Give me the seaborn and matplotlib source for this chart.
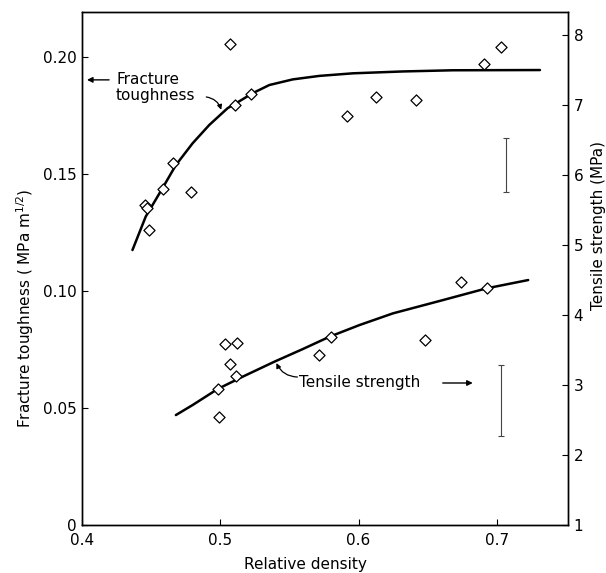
import matplotlib
matplotlib.use("Agg")
import matplotlib.pyplot as plt
import seaborn as sns
import numpy as np
import pandas as pd

# ---- data ----
ft_x = [0.507, 0.511, 0.5225, 0.466, 0.4585, 0.4787, 0.4457, 0.4471, 0.4488,
        0.5918, 0.6123, 0.6415, 0.6906, 0.7029]
ft_y = [0.2054, 0.1795, 0.1840, 0.1546, 0.1435, 0.1422, 0.1368, 0.1353, 0.1262,
        0.1747, 0.1830, 0.1816, 0.1971, 0.2044]

ft_curve_x = [0.4365, 0.4461, 0.4582, 0.4679, 0.480, 0.492, 0.5053, 0.5114,
              0.5234, 0.5355, 0.5524, 0.5717, 0.5959, 0.6321, 0.6683, 0.7312]
ft_curve_y = [0.1175, 0.1318, 0.1439, 0.1538, 0.1631, 0.1709, 0.1781, 0.1802,
              0.1845, 0.1880, 0.1904, 0.1919, 0.1930, 0.1938, 0.1943, 0.1944]

ts_x = [0.5036, 0.5118, 0.507, 0.5111, 0.4986, 0.499, 0.5717, 0.5802,
        0.6483, 0.6741, 0.693]
ts_y = [3.581, 3.604, 3.30, 3.133, 2.939, 2.539, 3.429, 3.69,
        3.643, 4.476, 4.381]

ts_curve_x = [0.4679, 0.480, 0.4981, 0.5162, 0.5391, 0.5597, 0.5790, 0.6007,
              0.6249, 0.6611, 0.6925, 0.7227]
ts_curve_y = [2.571, 2.714, 2.943, 3.119, 3.333, 3.514, 3.690, 3.857,
              4.024, 4.214, 4.381, 4.500]

ft_err_x = [0.707]
ft_err_lo = [0.1422]
ft_err_hi = [0.1655]
ts_err_x = [0.7031]
ts_err_lo = [2.276]
ts_err_hi = [3.286]

x_ticks = [0.4, 0.5, 0.6, 0.7]
x_ticklabels = ["0.4", "0.5", "0.6", "0.7"]
yl_ticks = [0, 0.05, 0.10, 0.15, 0.20]
yl_ticklabels = ["0", "0.05", "0.10", "0.15", "0.20"]
yr_ticks = [1, 2, 3, 4, 5, 6, 7, 8]
yr_ticklabels = ["1", "2", "3", "4", "5", "6", "7", "8"]

# ---- style ----
sns.set_theme(style="ticks")
plt.rcParams["font.family"] = ["DejaVu Sans"]
plt.rcParams["axes.linewidth"] = 1.0
plt.rcParams["axes.edgecolor"] = "black"
plt.rcParams["text.color"] = "black"

fig = plt.figure(figsize=(6.06, 5.73), dpi=100)
ax = fig.add_axes([82 / 606, 1 - 525 / 573, (568 - 82) / 606, (525 - 12) / 573])
ax2 = ax.twinx()

# fracture toughness
sns.lineplot(x=ft_curve_x, y=ft_curve_y, ax=ax, color="black", lw=1.8,
             sort=False, estimator=None, zorder=2)
sns.scatterplot(x=ft_x, y=ft_y, ax=ax, marker="D", s=32, facecolor="white",
                edgecolor="black", linewidth=0.9, zorder=3)
ax.errorbar(ft_err_x, [(l + h) / 2 for l, h in zip(ft_err_lo, ft_err_hi)],
            yerr=[[(h - l) / 2 for l, h in zip(ft_err_lo, ft_err_hi)]] * 2,
            fmt="none", ecolor="#444444", elinewidth=0.8, capsize=2.5, capthick=0.8)

# tensile strength
sns.lineplot(x=ts_curve_x, y=ts_curve_y, ax=ax2, color="black", lw=1.8,
             sort=False, estimator=None, zorder=2)
sns.scatterplot(x=ts_x, y=ts_y, ax=ax2, marker="D", s=32, facecolor="white",
                edgecolor="black", linewidth=0.9, zorder=3)
ax2.errorbar(ts_err_x, [(l + h) / 2 for l, h in zip(ts_err_lo, ts_err_hi)],
             yerr=[[(h - l) / 2 for l, h in zip(ts_err_lo, ts_err_hi)]] * 2,
             fmt="none", ecolor="#444444", elinewidth=0.8, capsize=2.5, capthick=0.8)

# limits & ticks
ax.set_xlim(0.4, 0.7515)
ax.set_ylim(0, 0.2192)
ax2.set_ylim(1, 8.33)
ax.set_xticks(x_ticks)
ax.set_xticklabels(x_ticklabels)
ax.set_yticks(yl_ticks)
ax.set_yticklabels(yl_ticklabels)
ax2.set_yticks(yr_ticks)
ax2.set_yticklabels(yr_ticklabels)
for a in (ax, ax2):
    a.tick_params(direction="in", length=4, width=0.8, labelsize=11, pad=4,
                  colors="black")
    for s in a.spines.values():
        s.set_visible(True)
        s.set_color("black")
        s.set_linewidth(1.0)
ax.tick_params(axis="x", pad=6)
ax.set_xlabel("")
ax.set_ylabel("")
ax2.set_ylabel("")

# axis labels
fig.text(25 / 606, 1 - 308 / 573, "Fracture toughness ( MPa m$^{1/2}$)",
         rotation=90, ha="center", va="center", fontsize=11, color="black")
fig.text(598 / 606, 1 - 225 / 573, "Tensile strength (MPa)",
         rotation=90, ha="center", va="center", fontsize=11, color="black")
fig.text(305 / 606, 1 - 565 / 573, "Relative density",
         ha="center", va="center", fontsize=11, color="black")

# annotations - fracture toughness
ax.text(0.4246, 0.1868, "Fracture\ntoughness", ha="left", va="center",
        fontsize=11, linespacing=1.1, color="black")
ax.annotate("", xy=(0.4036, 0.1902), xytext=(0.4196, 0.1902),
            arrowprops=dict(arrowstyle="-|>", color="black", lw=1.0,
                            mutation_scale=8, shrinkA=0, shrinkB=0))
ax.annotate("", xy=(0.5007, 0.1774), xytext=(0.4899, 0.1829),
            arrowprops=dict(arrowstyle="-|>", color="black", lw=0.9,
                            mutation_scale=7, shrinkA=0, shrinkB=0,
                            connectionstyle="arc3,rad=-0.3"))

# annotations - tensile strength
ax2.text(0.5572, 3.029, "Tensile strength", ha="left", va="center", fontsize=11,
         color="black")
ax2.annotate("", xy=(0.6826, 3.029), xytext=(0.6609, 3.029),
             arrowprops=dict(arrowstyle="-|>", color="black", lw=1.0,
                             mutation_scale=8, shrinkA=0, shrinkB=0))
ax2.annotate("", xy=(0.5406, 3.314), xytext=(0.5558, 3.114),
             arrowprops=dict(arrowstyle="-|>", color="black", lw=0.9,
                             mutation_scale=7, shrinkA=0, shrinkB=0,
                             connectionstyle="arc3,rad=-0.3"))

fig.savefig("out.png", dpi=100)
